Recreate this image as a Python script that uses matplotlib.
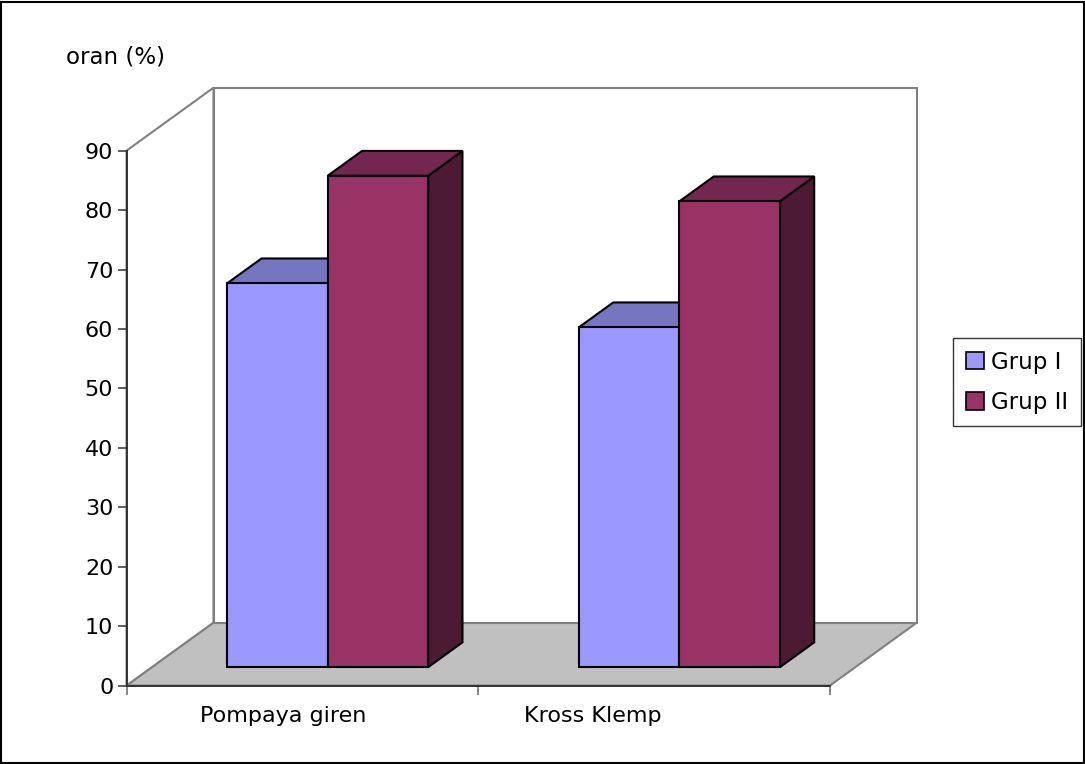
import matplotlib.pyplot as plt
from matplotlib.patches import Polygon, Patch, Rectangle

categories = ['Pompaya giren', 'Kross Klemp']
series = ['Grup I', 'Grup II']
grup1 = [64.6, 57.2]
grup2 = [82.7, 78.4]
yticks = list(range(0, 100, 10))

front_col = ['#9999FF', '#993366']
top_col = ['#7575C0', '#732650']
side_col = ['#4D4D80', '#4C1A33']

W, H = 1085, 764
fig = plt.figure(figsize=(W / 100, H / 100), dpi=100)
ax = fig.add_axes([126.5 / W, (H - 685.5) / H, 703.5 / W, 534.8 / H])
ax.set_xlim(0, 2)
ax.set_ylim(0, 90)
ax.patch.set_visible(False)

# oblique offset of the back of the box, in data units
DX = 87 / 703.5 * 2
DY = 63 / 534.8 * 90


def at(x, y, f):
    return (x + DX * f, y + DY * f)


wall = dict(edgecolor='#808080', lw=1.5, clip_on=False, zorder=1)
# floor, left wall, back wall
ax.add_patch(Polygon([at(0, 0, 0), at(2, 0, 0), at(2, 0, 1), at(0, 0, 1)],
                     facecolor='#C0C0C0', **wall))
ax.add_patch(Polygon([at(0, 0, 0), at(0, 0, 1), at(0, 90, 1), at(0, 90, 0)],
                     facecolor='white', **wall))
ax.add_patch(Polygon([at(0, 0, 1), at(2, 0, 1), at(2, 90, 1), at(0, 90, 1)],
                     facecolor='white', **wall))

# 3d bars: gap width 150%, depth from f0 to f1
w = 1 / 3.5
f0, f1 = 0.29, 0.685
values = [grup1, grup2]
for i in range(len(categories)):
    for j in range(len(series)):
        v = values[j][i]
        x0 = i + 0.75 * w + j * w
        x1 = x0 + w
        kw = dict(edgecolor='black', lw=1.5, clip_on=False, zorder=3, joinstyle='miter')
        ax.add_patch(Polygon([at(x1, 0, f0), at(x1, 0, f1), at(x1, v, f1), at(x1, v, f0)],
                             facecolor=side_col[j], **kw))
        ax.add_patch(Polygon([at(x0, v, f0), at(x1, v, f0), at(x1, v, f1), at(x0, v, f1)],
                             facecolor=top_col[j], **kw))
        ax.add_patch(Polygon([at(x0, 0, f0), at(x1, 0, f0), at(x1, v, f0), at(x0, v, f0)],
                             facecolor=front_col[j], **kw))

for s in ['top', 'right']:
    ax.spines[s].set_visible(False)
for s in ['left', 'bottom']:
    ax.spines[s].set_color('#333333')
    ax.spines[s].set_linewidth(1.4)
    ax.spines[s].set_zorder(2)

ax.set_yticks(yticks)
ax.set_xticks([0, 1, 2])
ax.set_xticklabels([])
ax.tick_params(axis='y', length=6.5, width=1.1, pad=3, labelsize=16, color='#333333')
ax.tick_params(axis='x', length=6.5, width=1.1, color='#666666')

label_pos = [0.445, 1.326]
for x, name in zip(label_pos, categories):
    ax.annotate(name, xy=(x, H - 722), xycoords=('data', 'figure pixels'),
                ha='center', va='baseline', fontsize=16)

fig.text(66 / W, 1 - 63.3 / H, 'oran (%)', ha='left', va='baseline', fontsize=16.5)

handles = [Patch(facecolor=c, edgecolor='black', lw=1.2) for c in front_col]
leg = fig.legend(handles, series, loc='upper left', bbox_to_anchor=(953 / W, 1 - 338 / H),
                 frameon=True, fancybox=False, edgecolor='#333333', framealpha=1,
                 fontsize=16.5, handlelength=0.8, handleheight=0.8, handletextpad=0.3,
                 borderpad=0.55, labelspacing=0.75, borderaxespad=0)
leg.get_frame().set_linewidth(1)

# outer chart border
fig.add_artist(Rectangle((1 / W, 1 / H), (W - 2.5) / W, (H - 2.5) / H, transform=fig.transFigure,
                         fill=False, edgecolor='black', lw=1.5))

fig.savefig('out.png', dpi=100)
